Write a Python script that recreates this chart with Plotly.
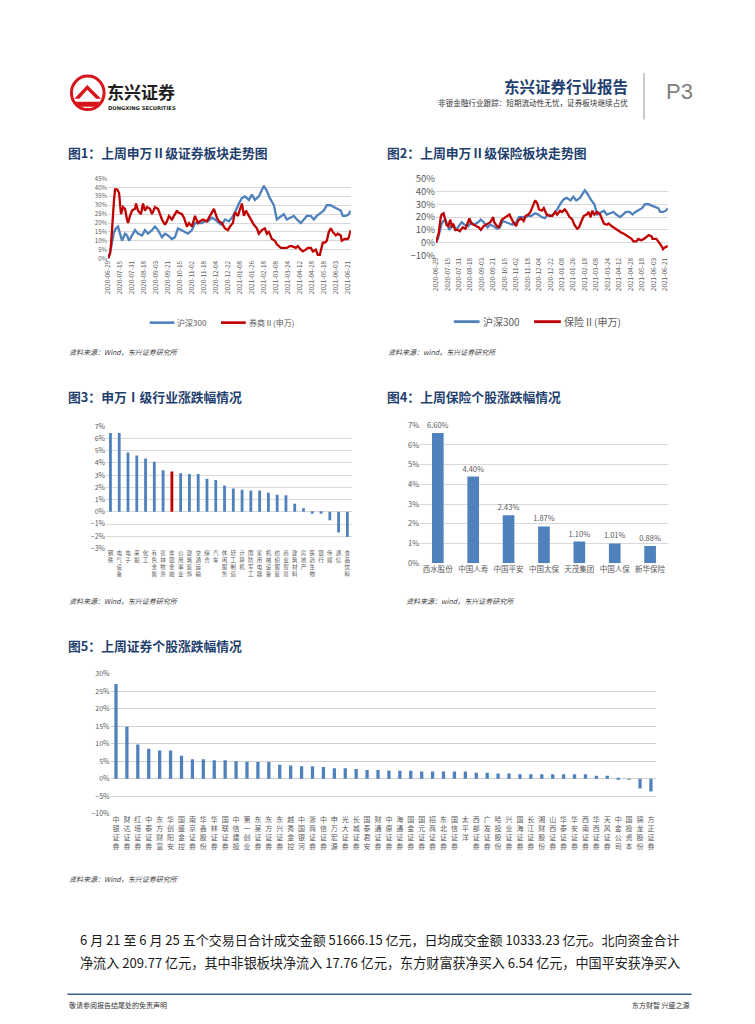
import plotly.graph_objects as go

W, H = 755, 1024
def px(x): return x / W
def py(y): return 1 - y / H

BLUE = "#4F81BD"
RED = "#C00000"
GRAY = "#595959"
NAVY = "#1F3F6E"
GRID = "#D9D9D9"
FONT = "Noto Sans CJK SC, sans-serif"

# ---------------- Chart 1 / 2 data (trading-day index, cumulative %) ----------------
date_ticks_idx = [0, 12, 24, 36, 48, 60, 72, 84, 96, 108, 120, 132, 144, 156, 168, 180, 192, 204, 216, 228, 240]
date_ticks_txt = ["2020-06-29", "2020-07-15", "2020-07-31", "2020-08-18", "2020-09-03", "2020-09-21",
                  "2020-10-15", "2020-11-02", "2020-11-18", "2020-12-04", "2020-12-22", "2021-01-08",
                  "2021-01-26", "2021-02-18", "2021-03-08", "2021-03-24", "2021-04-12", "2021-04-28",
                  "2021-05-18", "2021-06-03", "2021-06-21"]

hs300_t = [0, 2, 3, 6, 8, 10, 12, 14, 17, 19, 21, 23, 27, 30, 34, 37, 40, 44, 47, 50, 54, 57, 60, 64, 67,
           70, 74, 77, 80, 84, 87, 90, 94, 97, 100, 104, 107, 111, 114, 117, 121, 124, 127, 131, 134, 137,
           141, 144, 147, 151, 154, 156, 157, 159, 162, 166, 169, 173, 176, 179, 183, 186, 189, 193, 196,
           199, 203, 206, 209, 213, 216, 219, 223, 226, 229, 233, 235, 238, 241, 243]
hs300_v = [0, 3, 6, 15, 17, 18, 14, 10, 14, 13, 10, 12, 16, 14, 13, 16, 14, 16, 18, 16, 12, 14, 13, 11, 12,
           17, 16, 15, 14, 16, 20, 20, 20, 21, 21, 23, 22, 20, 19, 22, 21, 23, 26, 31, 34, 35,
           33, 36, 33, 35, 39, 41, 40, 38, 34, 30, 22, 24, 25, 22, 23, 24, 22, 20, 22,
           24, 24, 22, 24, 26, 27, 30, 30, 29, 28, 27, 24, 24, 25, 27]

broker_t = [0, 2, 3, 5, 6, 7, 9, 11, 13, 15, 17, 19, 20, 22, 24, 27, 28, 30, 33, 35, 37, 39, 42, 44, 47,
            50, 52, 54, 57, 59, 61, 64, 66, 69, 70, 74, 76, 79, 81, 84, 87, 90, 92, 95, 99, 101, 104,
            106, 109, 111, 114, 117, 120, 122, 125, 127, 130, 132, 134, 136, 138, 141, 143, 146, 149,
            151, 154, 157, 159, 161, 164, 167, 169, 173, 176, 179, 182, 184, 188, 190, 193, 195, 198,
            200, 203, 205, 208, 210, 212, 213, 215, 217, 219, 221, 223, 225, 228, 230, 233, 234, 237,
            240, 241, 243]
broker_v = [0, 3, 8, 28, 33, 39, 39, 37, 25, 29, 28, 22, 20, 24, 27, 28, 31, 27, 25, 31, 27, 29, 28, 25, 29,
            28, 25, 22, 19, 21, 24, 22, 24, 27, 26, 25, 23, 18, 20, 18, 24, 20, 21, 22, 21, 23, 26,
            28, 23, 21, 20, 17, 16, 18, 20, 26, 24, 27, 31, 24, 27, 24, 22, 19, 17,
            14, 16, 17, 14, 15, 11, 10, 8, 6, 6, 6, 7, 7, 6, 7, 5, 4, 5,
            6, 6, 4, 5, 2, 2, 4, 9, 9, 10, 15, 17, 15, 13, 14, 13, 10, 11,
            11, 12, 16]

insur_t = [0, 2, 3, 5, 6, 8, 10, 11, 13, 15, 17, 18, 20, 23, 25, 28, 31, 33, 35, 37, 39, 42, 45, 47, 50,
           52, 55, 57, 60, 61, 64, 66, 69, 71, 74, 77, 79, 81, 84, 86, 89, 92, 94, 97, 99, 102, 104,
           106, 108, 111, 113, 116, 119, 122, 125, 127, 130, 132, 135, 137, 140, 143, 145, 148, 150,
           152, 155, 158, 160, 162, 164, 166, 169, 172, 174, 176, 179, 181, 184, 186, 189, 191, 194,
           197, 199, 202, 205, 207, 210, 212, 215, 218, 220, 223, 226, 227, 231, 233, 236, 238, 239,
           242, 243]
insur_v = [0, 5, 8, 20, 22, 23, 17, 14, 13, 18, 12, 15, 10, 10, 9, 12, 11, 15, 19, 15, 14, 13, 12, 10, 13,
           14, 15, 16, 20, 16, 13, 12, 18, 19, 20, 22, 19, 16, 13, 17, 19, 17, 21, 22, 24, 29, 33,
           31, 26, 25, 27, 22, 21, 21, 24, 22, 25, 24, 26, 24, 20, 18, 14, 11, 12,
           16, 21, 22, 24, 20, 25, 22, 24, 22, 19, 15, 14, 15, 13, 12, 10, 9, 8,
           7, 6, 4, 3, 1, 1, 3, 2, 3, 4, 6, 5, 3, 3, 1, -2, -5, -4,
           -3, -2]

# ---------------- Chart 3 data ----------------
ind_names = ["钢铁", "电气设备", "电子", "采掘", "化工", "有色金属", "农林牧渔", "非银金融", "公用事业",
             "建筑装饰", "交通运输", "综合", "汽车", "休闲服务", "轻工制造", "计算机", "国防军工", "家用电器",
             "机械设备", "纺织服装", "商业贸易", "建筑材料", "房地产", "医药生物", "银行", "传媒", "通信", "食品饮料"]
ind_vals = [6.45, 6.45, 4.85, 4.6, 4.35, 4.1, 3.4, 3.3, 3.15, 3.1, 3.1, 2.7, 2.6, 2.15, 1.9, 1.8, 1.75, 1.75,
            1.55, 1.4, 1.35, 0.65, 0.3, -0.15, -0.15, -0.7, -1.7, -2.05]
ind_highlight = "非银金融"

# ---------------- Chart 4 data ----------------
ins_names = ["西水股份", "中国人寿", "中国平安", "中国太保", "天茂集团", "中国人保", "新华保险"]
ins_vals = [6.60, 4.40, 2.43, 1.87, 1.10, 1.01, 0.88]

# ---------------- Chart 5 data ----------------
sec_names = ["中银证券", "财达证券", "红塔证券", "中泰证券", "东方财富", "华创阳安", "国盛金控", "南京证券",
             "华鑫股份", "华林证券", "国联证券", "中信建投", "第一创业", "东吴证券", "东方证券", "东兴证券",
             "越秀金控", "中国银河", "浙商证券", "中信证券", "申万宏源", "光大证券", "长城证券", "国泰君安",
             "财通证券", "中原证券", "海通证券", "国金证券", "国元证券", "招商证券", "东北证券", "国信证券",
             "太平洋", "西部证券", "广发证券", "哈投股份", "兴业证券", "国海证券", "长江证券", "湘财股份",
             "山西证券", "华泰证券", "华安证券", "西南证券", "华西证券", "天风证券", "中金公司", "国投资本",
             "锦龙股份", "方正证券"]
sec_vals = [27.1, 14.9, 9.8, 8.6, 8.1, 8.1, 6.6, 5.6, 5.6, 5.3, 5.3, 5.0, 4.9, 4.8, 4.8, 4.0, 3.8, 3.6,
            3.6, 3.4, 3.0, 3.0, 2.8, 2.5, 2.5, 2.4, 2.3, 2.3, 2.1, 2.1, 2.1, 2.1, 2.1, 1.7, 1.7, 1.5,
            1.5, 1.3, 1.3, 1.3, 1.3, 1.3, 1.3, 1.3, 0.9, 0.9, 0.03, -0.25, -2.8, -3.6]


def stack(s):
    return "<br>".join(list(s))


fig = go.Figure()

# Chart 1
fig.add_trace(go.Scatter(x=hs300_t, y=hs300_v, mode="lines", line=dict(color=BLUE, width=2.3),
                         xaxis="x", yaxis="y", showlegend=False, hoverinfo="skip"))
fig.add_trace(go.Scatter(x=broker_t, y=broker_v, mode="lines", line=dict(color=RED, width=2.3),
                         xaxis="x", yaxis="y", showlegend=False, hoverinfo="skip"))
# Chart 2
fig.add_trace(go.Scatter(x=hs300_t, y=hs300_v, mode="lines", line=dict(color=BLUE, width=2.3),
                         xaxis="x2", yaxis="y2", showlegend=False, hoverinfo="skip"))
fig.add_trace(go.Scatter(x=insur_t, y=insur_v, mode="lines", line=dict(color=RED, width=2.3),
                         xaxis="x2", yaxis="y2", showlegend=False, hoverinfo="skip"))
# Chart 3
fig.add_trace(go.Bar(x=[stack(n) for n in ind_names], y=ind_vals, width=0.32,
                     marker=dict(color=[RED if n == ind_highlight else BLUE for n in ind_names], line=dict(width=0)),
                     xaxis="x3", yaxis="y3", showlegend=False, hoverinfo="skip"))
# Chart 4
fig.add_trace(go.Bar(x=ins_names, y=ins_vals, width=0.33,
                     marker=dict(color=BLUE, line=dict(width=0)),
                     text=[f"{v:.2f}%" for v in ins_vals], textposition="outside", constraintext="none",
                     textfont=dict(size=7.5, color=GRAY), cliponaxis=False,
                     xaxis="x4", yaxis="y4", showlegend=False, hoverinfo="skip"))
# Chart 5
fig.add_trace(go.Bar(x=[stack(n) for n in sec_names], y=sec_vals, width=0.3,
                     marker=dict(color=BLUE, line=dict(width=0)),
                     xaxis="x5", yaxis="y5", showlegend=False, hoverinfo="skip"))

tickf = lambda s: dict(size=s, color=GRAY, family=FONT)

layout = dict(
    width=W, height=H, margin=dict(l=0, r=0, t=0, b=0),
    paper_bgcolor="white", plot_bgcolor="white",
    font=dict(family=FONT, color=GRAY),
    # chart 1
    xaxis=dict(domain=[px(103), px(348)], range=[0, 243], tickmode="array", tickvals=date_ticks_idx,
               ticktext=date_ticks_txt, tickangle=-90, tickfont=tickf(6.5), showgrid=False, zeroline=False,
               showline=False, ticks="", fixedrange=True),
    yaxis=dict(domain=[py(254), py(173)], range=[0, 45], dtick=5, ticksuffix="%", tickfont=tickf(6),
               showgrid=True, gridcolor=GRID, gridwidth=1, zeroline=False, showline=False, ticks="",
               anchor="x", fixedrange=True),
    # chart 2
    xaxis2=dict(domain=[px(434), px(668)], range=[0, 243], tickmode="array", tickvals=date_ticks_idx,
                ticktext=date_ticks_txt, tickangle=-90, tickfont=tickf(6.5), showgrid=False, zeroline=False,
                showline=False, ticks="", anchor="y2", fixedrange=True),
    yaxis2=dict(domain=[py(251), py(173)], range=[-10, 50], dtick=10, ticksuffix="%", tickfont=tickf(9.5),
                showgrid=True, gridcolor=GRID, gridwidth=1, zeroline=False, showline=False, ticks="",
                anchor="x2", fixedrange=True),
    # chart 3
    xaxis3=dict(domain=[px(101), px(349)], tickfont=tickf(5.5), tickangle=0, showgrid=False, zeroline=False,
                showline=False, ticks="", anchor="y3", fixedrange=True, type="category"),
    yaxis3=dict(domain=[py(548), py(424)], range=[-3, 7], dtick=1, ticksuffix="%", tickfont=tickf(7),
                showgrid=True, gridcolor=GRID, gridwidth=1, zeroline=False, showline=False, ticks="",
                anchor="x3", fixedrange=True),
    # chart 4
    xaxis4=dict(domain=[px(418), px(668)], tickfont=tickf(7.5), tickangle=0, showgrid=False, zeroline=False,
                showline=False, ticks="", anchor="y4", fixedrange=True, type="category"),
    yaxis4=dict(domain=[py(563), py(423)], range=[0, 7], dtick=1, ticksuffix="%", tickfont=tickf(7.5),
                showgrid=True, gridcolor=GRID, gridwidth=1, zeroline=False, showline=False, ticks="",
                anchor="x4", fixedrange=True),
    # chart 5
    xaxis5=dict(domain=[px(105.5), px(656.5)], tickfont=tickf(7), tickangle=0, showgrid=False, zeroline=False,
                showline=False, ticks="", anchor="y5", fixedrange=True, type="category"),
    yaxis5=dict(domain=[py(817), py(675)], range=[-10, 30], dtick=5, ticksuffix="%", tickfont=tickf(7),
                showgrid=True, gridcolor="#D0D0D0", gridwidth=1.4, zeroline=False, showline=False, ticks="",
                anchor="x5", fixedrange=True),
)
fig.update_layout(**layout)

ann = []
shapes = []

def text(x, y, s, size, color=GRAY, anchor="left", bold=False, italic=False, family=FONT):
    if bold:
        s = f"<b>{s}</b>"
    if italic:
        s = f"<i>{s}</i>"
    ann.append(dict(x=px(x), y=py(y), xref="paper", yref="paper", text=s, showarrow=False,
                    xanchor=anchor, yanchor="middle", align=anchor, borderpad=0,
                    font=dict(size=size, color=color, family=family)))

# ---------------- Header ----------------
shapes.append(dict(type="circle", xref="paper", yref="paper", x0=px(66), x1=px(99), y0=py(103), y1=py(69),
                   line=dict(color="#D7131B", width=3), fillcolor="white"))
shapes.append(dict(type="path", xref="paper", yref="paper",
                   path=f"M {px(69)},{py(92)} L {px(82)},{py(78)} L {px(96)},{py(92)} L {px(91)},{py(92)} L {px(82)},{py(83)} L {px(74)},{py(92)} Z",
                   fillcolor="#D7131B", line=dict(width=0)))
shapes.append(dict(type="path", xref="paper", yref="paper",
                   path=f"M {px(70)},{py(95)} L {px(95)},{py(95)} L {px(91)},{py(100)} L {px(74)},{py(100)} Z",
                   fillcolor="#D7131B", line=dict(width=0)))
text(101, 85, "东兴证券", 17, color="#231F20", bold=True)
text(102, 101, "DONGXING SECURITIES", 5.2, color="#231F20", bold=True, family="DejaVu Sans, sans-serif")
text(629, 79, "东兴证券行业报告", 15.5, color=NAVY, anchor="right", bold=True)
text(629, 96, "非银金融行业跟踪：短期流动性无忧，证券板块继续占优", 7.6, color="#333333", anchor="right")
shapes.append(dict(type="line", xref="paper", yref="paper", x0=px(644), x1=px(644), y0=py(66), y1=py(113),
                   line=dict(color="#A6A6A6", width=1.2)))
text(665, 85, "P3", 22, color="#7F7F7F", family="Liberation Sans, sans-serif")

# ---------------- Titles ----------------
text(62, 147, "图1：上周申万Ⅱ级证券板块走势图", 12.8, color=NAVY, bold=True)
text(384, 147, "图2：上周申万Ⅱ级保险板块走势图", 12.8, color=NAVY, bold=True)
text(62, 394, "图3：申万Ⅰ级行业涨跌幅情况", 12.8, color=NAVY, bold=True)
text(384, 394, "图4：上周保险个股涨跌幅情况", 12.8, color=NAVY, bold=True)
text(62, 646, "图5：上周证券个股涨跌幅情况", 12.8, color=NAVY, bold=True)

# ---------------- Legends ----------------
shapes.append(dict(type="line", xref="paper", yref="paper", x0=px(145), x1=px(170), y0=py(319), y1=py(319),
                   line=dict(color=BLUE, width=2.6)))
text(172, 319, "沪深300", 8)
shapes.append(dict(type="line", xref="paper", yref="paper", x0=px(217), x1=px(242), y0=py(319), y1=py(319),
                   line=dict(color=RED, width=2.6)))
text(244, 319, "券商Ⅱ(申万)", 8)
shapes.append(dict(type="line", xref="paper", yref="paper", x0=px(452), x1=px(478), y0=py(318), y1=py(318),
                   line=dict(color=BLUE, width=2.8)))
text(480, 318, "沪深300", 10)
shapes.append(dict(type="line", xref="paper", yref="paper", x0=px(533), x1=px(560), y0=py(318), y1=py(318),
                   line=dict(color=RED, width=2.8)))
text(562, 318, "保险Ⅱ(申万)", 10)

# ---------------- Sources ----------------
text(63, 349, "资料来源：Wind，东兴证券研究所", 7, color="#404040", italic=True)
text(385, 349, "资料来源：wind，东兴证券研究所", 7, color="#404040", italic=True)
text(63, 601, "资料来源：Wind，东兴证券研究所", 7, color="#404040", italic=True)
text(403, 601, "资料来源：wind，东兴证券研究所", 7, color="#404040", italic=True)
text(63, 883, "资料来源：Wind，东兴证券研究所", 7, color="#404040", italic=True)

# ---------------- Body text ----------------
text(74, 944, "6 月 21 至 6 月 25 五个交易日合计成交金额 51666.15 亿元，日均成交金额 10333.23 亿元。北向资金合计", 13,
     color="#1A1A1A")
text(74, 968, "净流入 209.77 亿元，其中非银板块净流入 17.76 亿元，东方财富获净买入 6.54 亿元，中国平安获净买入", 13.1,
     color="#1A1A1A")

# ---------------- Footer ----------------
shapes.append(dict(type="line", xref="paper", yref="paper", x0=px(62), x1=px(692), y0=py(1000), y1=py(1000),
                   line=dict(color="#3B5E91", width=1.5)))
text(63, 1011, "敬请参阅报告结尾处的免责声明", 7, color="#333333")
text(691, 1011, "东方财智 兴盛之源", 7, color="#333333", anchor="right")

fig.update_layout(annotations=ann, shapes=shapes)

fig.write_html("out.html", config={"displayModeBar": False},
               post_script="document.body.style.margin='0';document.body.style.overflow='hidden';")
